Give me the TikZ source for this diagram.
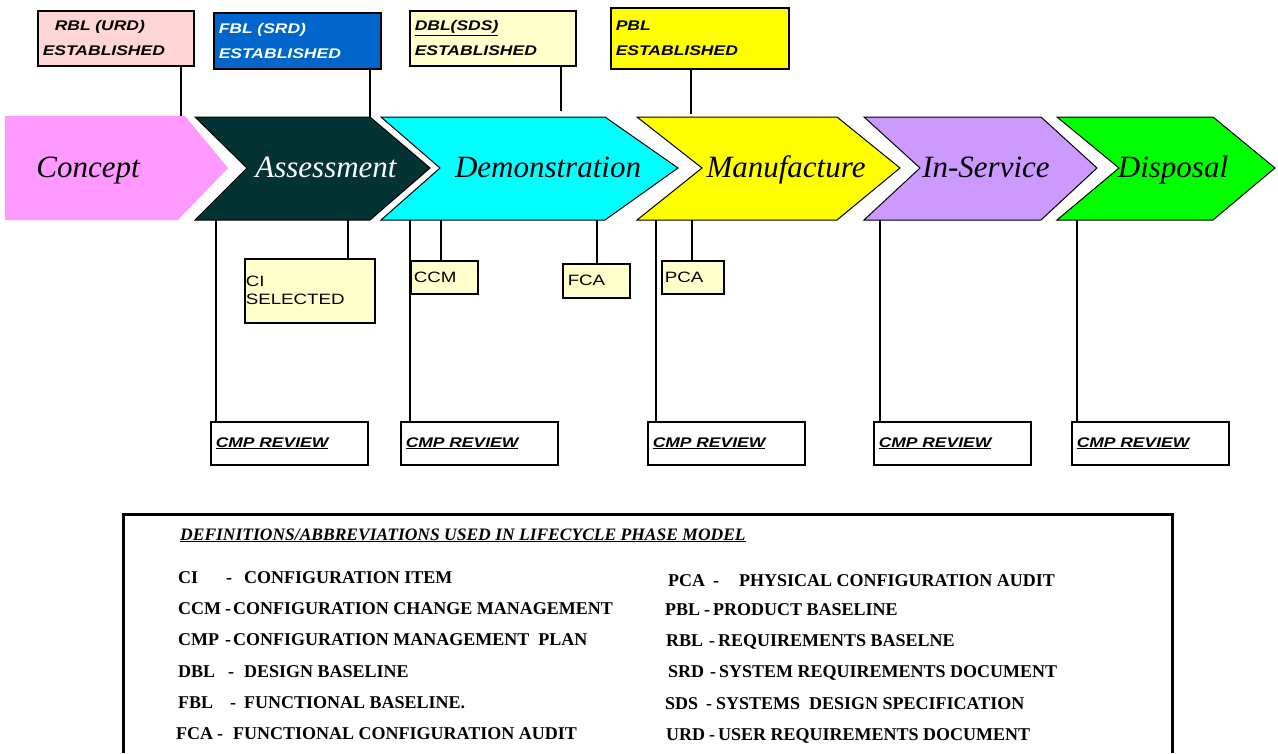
\documentclass[tikz,border=0pt]{standalone}
\usepackage{fontspec}
\setmainfont{Liberation Serif}
\newfontfamily\tagfont[FakeStretch=1.25]{Liberation Sans}

\definecolor{conceptpink}{HTML}{FF99FF}
\definecolor{assessteal}{HTML}{033333}
\definecolor{democyan}{HTML}{00FFFF}
\definecolor{manyellow}{HTML}{FFFF00}
\definecolor{servlilac}{HTML}{CC99FF}
\definecolor{dispgreen}{HTML}{00FF00}
\definecolor{rblpink}{HTML}{FFD5D5}
\definecolor{fblblue}{HTML}{0066CC}
\definecolor{paleyellow}{HTML}{FFFFCC}

\newcommand{\defline}[4]{\makebox[#2][l]{#1}\makebox[#3][l]{-}#4}

\tikzset{
  phase/.style={anchor=base, inner sep=0pt, font=\itshape\fontsize{31}{34}\selectfont},
  link/.style={line width=1.5pt},
  tagbox/.style={draw, line width=1.5pt, anchor=north west, align=left, inner xsep=5pt, inner ysep=0pt},
  est/.style={tagbox, font=\tagfont\bfseries\itshape\fontsize{14}{25}\selectfont},
  note/.style={tagbox, fill=paleyellow, font=\tagfont\fontsize{15}{18}\selectfont},
  review/.style={tagbox, fill=white, text width=147pt, minimum height=43pt, font=\tagfont\bfseries\itshape\fontsize{14}{16}\selectfont},
  deftext/.style={anchor=base west, inner sep=0pt, font=\bfseries\fontsize{18}{20}\selectfont},
}

\begin{document}
\begin{tikzpicture}[x=1pt,y=-1pt]
\useasboundingbox (0,0) rectangle (1278,753);

% lifecycle phases
\fill[conceptpink] (5,116) -- (185,116) -- (228,168) -- (178,220) -- (5,220) -- cycle;
\filldraw[fill=assessteal, line width=1pt] (195,117) -- (370,117) -- (430,168) -- (370,220) -- (195,220) -- (247,168) -- cycle;
\filldraw[fill=democyan, line width=1pt] (381,117) -- (605,117) -- (678,168) -- (605,220) -- (381,220) -- (440,168) -- cycle;
\filldraw[fill=manyellow, line width=1pt] (637,117) -- (837,117) -- (900,168) -- (837,220) -- (637,220) -- (702,168) -- cycle;
\filldraw[fill=servlilac, line width=1pt] (864,117) -- (1041,117) -- (1097,168) -- (1041,220) -- (864,220) -- (920,168) -- cycle;
\filldraw[fill=dispgreen, line width=1pt] (1057,117) -- (1213,117) -- (1275,168) -- (1213,220) -- (1057,220) -- (1119,168) -- cycle;

\node[phase] (concept) at (88,177) {Concept};
\node[phase, text=white] (assessment) at (326,177) {Assessment};
\node[phase] (demonstration) at (548,177) {Demonstration};
\node[phase] (manufacture) at (786,177) {Manufacture};
\node[phase] (inservice) at (986,177) {In-Service};
\node[phase] (disposal) at (1173,177) {Disposal};

% attach points on the phases
\coordinate (rbl-in) at (181,116);
\coordinate (fbl-in) at (370,117);
\coordinate (dbl-in) at (561,111);
\coordinate (pbl-in) at (691,114);
\coordinate (ci-out) at (348,220);
\coordinate (ass-out) at (216,220);
\coordinate (dem-out) at (410,220);
\coordinate (ccm-out) at (441,220);
\coordinate (fca-out) at (597,220);
\coordinate (man-out) at (656,220);
\coordinate (pca-out) at (692,220);
\coordinate (ins-out) at (880,220);
\coordinate (dis-out) at (1077,220);

% baselines
\node[est, fill=rblpink, text width=146pt, minimum height=55pt] (rbl) at (37,10) {\hspace*{12pt}RBL (URD)\\ESTABLISHED};
\node[est, fill=fblblue, text=white, text width=157pt, minimum height=56pt] (fbl) at (213,12) {FBL (SRD)\\ESTABLISHED};
\node[est, fill=paleyellow, text width=156pt, minimum height=55pt] (dbl) at (409,10) {\underline{DBL(SDS)}\\ESTABLISHED};
\node[est, fill=manyellow, text width=168pt, minimum height=61pt] (pbl) at (610,7) {PBL\\ESTABLISHED};

% events below the phases
\node[note, inner xsep=1pt, text width=128pt, minimum height=64pt] (ci) at (244,258) {CI\\SELECTED};
\node[note, inner xsep=3pt, text width=61pt, minimum height=33pt] (ccm) at (410,260) {CCM};
\node[note, text width=57pt, minimum height=34pt] (fca) at (562,263) {FCA};
\node[note, inner xsep=3pt, text width=56pt, minimum height=33pt] (pca) at (661,260) {PCA};

\node[review] (cmp1) at (210,421) {\underline{CMP REVIEW}};
\node[review] (cmp2) at (400,421) {\underline{CMP REVIEW}};
\node[review] (cmp3) at (647,421) {\underline{CMP REVIEW}};
\node[review] (cmp4) at (873,421) {\underline{CMP REVIEW}};
\node[review] (cmp5) at (1071,421) {\underline{CMP REVIEW}};

\draw[link] (rbl.south -| rbl-in) -- (rbl-in);
\draw[link] (fbl.south -| fbl-in) -- (fbl-in);
\draw[link] (dbl.south -| dbl-in) -- (dbl-in);
\draw[link] (pbl.south -| pbl-in) -- (pbl-in);
\draw[link] (ci-out) -- (ci-out |- ci.north);
\draw[link] (ass-out) -- (ass-out |- cmp1.north);
\draw[link] (dem-out) -- (dem-out |- cmp2.north);
\draw[link] (ccm-out) -- (ccm-out |- ccm.north);
\draw[link] (fca-out) -- (fca-out |- fca.north);
\draw[link] (man-out) -- (man-out |- cmp3.north);
\draw[link] (pca-out) -- (pca-out |- pca.north);
\draw[link] (ins-out) -- (ins-out |- cmp4.north);
\draw[link] (dis-out) -- (dis-out |- cmp5.north);

% definitions
\draw[line width=3pt] (123,753) |- (1172,514) -- (1172,753);
\node[deftext, font=\bfseries\itshape\fontsize{17.5}{19}\selectfont] (title) at (180,540) {\underline{DEFINITIONS/ABBREVIATIONS USED IN LIFECYCLE PHASE MODEL}};

\node[deftext] (d-ci) at (178,583) {\defline{CI}{48pt}{18pt}{CONFIGURATION ITEM}};
\node[deftext] (d-ccm) at (178,614) {\defline{CCM}{47pt}{8pt}{CONFIGURATION CHANGE MANAGEMENT}};
\node[deftext] (d-cmp) at (178,645) {\defline{CMP}{47pt}{8pt}{CONFIGURATION MANAGEMENT\ \ PLAN}};
\node[deftext] (d-dbl) at (178,677) {\defline{DBL}{50pt}{16pt}{DESIGN BASELINE}};
\node[deftext] (d-fbl) at (178,708) {\defline{FBL}{52pt}{14pt}{FUNCTIONAL BASELINE.}};
\node[deftext] (d-fca) at (176,739) {\defline{FCA}{41pt}{16pt}{FUNCTIONAL CONFIGURATION AUDIT}};

\node[deftext] (d-pca) at (668,586) {\defline{PCA}{45pt}{26pt}{PHYSICAL CONFIGURATION AUDIT}};
\node[deftext] (d-pbl) at (665,615) {\defline{PBL}{39pt}{9pt}{PRODUCT BASELINE}};
\node[deftext] (d-rbl) at (666,646) {\defline{RBL}{43pt}{9pt}{REQUIREMENTS BASELNE}};
\node[deftext] (d-srd) at (668,677) {\defline{SRD}{42pt}{9pt}{SYSTEM REQUIREMENTS DOCUMENT}};
\node[deftext] (d-sds) at (665,709) {\defline{SDS}{41pt}{10pt}{SYSTEMS\ \ DESIGN SPECIFICATION}};
\node[deftext] (d-urd) at (666,740) {\defline{URD}{43pt}{9pt}{USER REQUIREMENTS DOCUMENT}};
\end{tikzpicture}
\end{document}
